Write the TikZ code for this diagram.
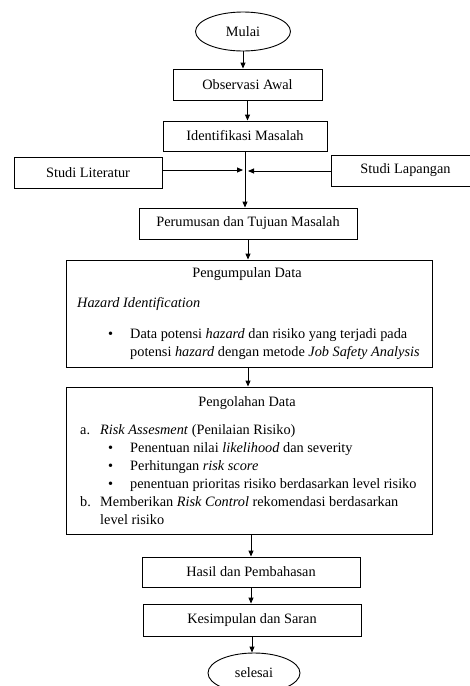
\documentclass[tikz,border=0pt]{standalone}
\usepackage{fontspec}
\setmainfont{Liberation Serif}
\usetikzlibrary{arrows.meta,shapes.geometric}
\begin{document}
\begin{tikzpicture}[x=1pt,y=-1pt,
  font=\fontsize{14.3}{18}\selectfont,
  box/.style={draw,line width=0.9pt,inner sep=0pt},
  term/.style={draw,ellipse,line width=0.9pt,inner sep=0pt},
  arr/.style={-{Triangle[length=6pt,width=5pt]},line width=0.9pt},
  txt/.style={anchor=base west,inner sep=0pt},
  ttl/.style={anchor=base,inner sep=0pt}
]
\path[use as bounding box, clip] (0,0) rectangle (470,686);
\fill[white] (0,0) rectangle (470,686);
\node[term,minimum width=95pt,minimum height=39pt] (mulai) at (243,31.5) {Mulai};
\node[box,minimum width=149pt,minimum height=31pt] (obs) at (247.5,84.5) {Observasi Awal};
\node[box,minimum width=164pt,minimum height=30pt] (ident) at (245,136) {Identifikasi Masalah};
\node[box,minimum width=148pt,minimum height=31pt] (lit) at (88,172.5) {Studi Literatur};
\node[box,minimum width=149pt,minimum height=31pt] (lap) at (405.5,170.5) {Studi Lapangan};
\node[box,minimum width=218pt,minimum height=31pt] (rumus) at (248,223.5) {Perumusan dan Tujuan Masalah};
\node[box,minimum width=366pt,minimum height=107pt] (kumpul) at (249,313.5) {};
\node[box,minimum width=366pt,minimum height=147pt] (olah) at (249,460.5) {};
\node[box,minimum width=218pt,minimum height=30pt] (hasil) at (251,572) {Hasil dan Pembahasan};
\node[box,minimum width=218pt,minimum height=32pt] (simpul) at (252,620) {Kesimpulan dan Saran};
\node[term,minimum width=92pt,minimum height=40pt] (selesai) at (254,673) {selesai};

% text of Pengumpulan Data
\node[ttl] (k0) at (247,277.5) {Pengumpulan Data};
\node[txt] (k1) at (77,307.5) {\textit{Hazard Identification}};
\node[txt] (kb) at (108,338.5) {•};
\node[txt] (k2) at (130,338.5) {Data potensi \textit{hazard} dan risiko yang terjadi pada};
\node[txt] (k3) at (130,356.5) {potensi \textit{hazard} dengan metode \textit{Job Safety Analysis}};

% text of Pengolahan Data
\node[ttl] (o0) at (247,406) {Pengolahan Data};
\node[txt] (oa) at (80,434) {a.};
\node[txt] (o1) at (100,434) {\textit{Risk Assesment} (Penilaian Risiko)};
\node[txt] (ob1) at (108,452) {•};
\node[txt] (o2) at (130,452) {Penentuan nilai \textit{likelihood} dan severity};
\node[txt] (ob2) at (108,470) {•};
\node[txt] (o3) at (130,470) {Perhitungan \textit{risk score}};
\node[txt] (ob3) at (108,488) {•};
\node[txt] (o4) at (130,488) {penentuan prioritas risiko berdasarkan level risiko};
\node[txt] (obb) at (80,506) {b.};
\node[txt] (o5) at (100,506) {Memberikan \textit{Risk Control} rekomendasi berdasarkan};
\node[txt] (o6) at (100,524) {level risiko};

% connectors
\coordinate (jl) at (243,170);
\coordinate (jr) at (248,171);
\draw[arr] (mulai.south) -- (mulai.south |- obs.north);
\draw[arr] (obs.south) -- (obs.south |- ident.north);
\draw[arr] (ident.south) -- (ident.south |- rumus.north);
\draw[arr] (lit.east |- jl) -- (jl);
\draw[arr] (lap.west |- jr) -- (jr);
\draw[arr] (rumus.south) -- (rumus.south |- kumpul.north);
\draw[arr] (rumus.south |- kumpul.south) -- (rumus.south |- olah.north);
\draw[arr] (hasil.north |- olah.south) -- (hasil.north);
\draw[arr] (hasil.south) -- (hasil.south |- simpul.north);
\draw[arr] (simpul.south) -- (simpul.south |- selesai.north);
\end{tikzpicture}
\end{document}
